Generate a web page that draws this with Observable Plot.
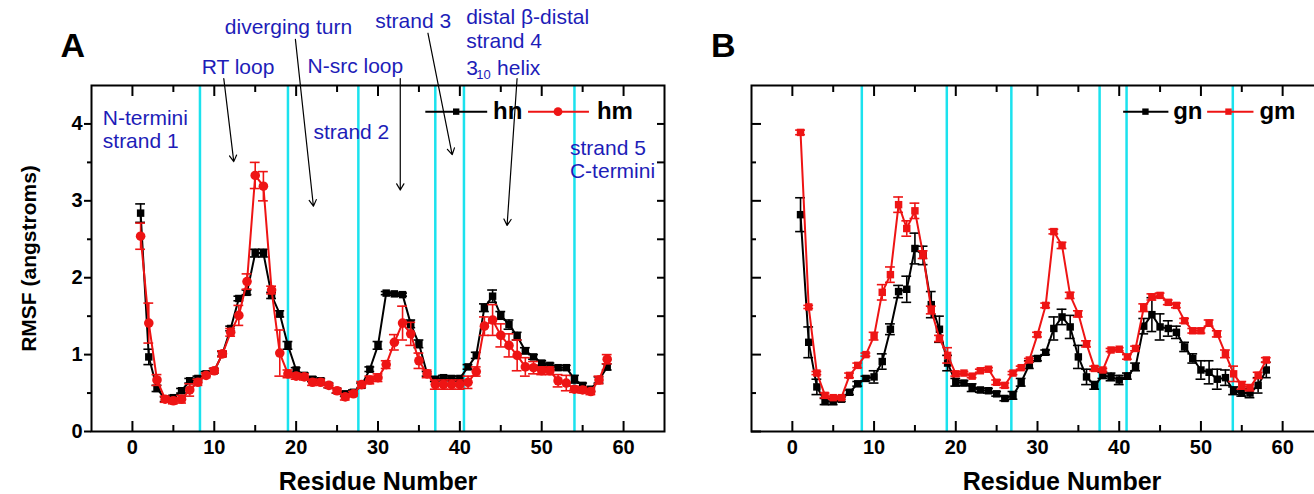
<!DOCTYPE html>
<html><head><meta charset="utf-8">
<script src="https://cdn.jsdelivr.net/npm/d3@7"></script>
<script src="https://cdn.jsdelivr.net/npm/@observablehq/plot@0.6"></script>
<style>
html,body{margin:0;padding:0;background:#fff;overflow:hidden;}
#wrap{display:flex;width:1314px;height:494px;overflow:hidden;}
#wrap svg{flex:none;display:block;}
</style></head><body><div id="wrap"></div>
<script>
// ---------- data ----------
const residues = [1,2,3,4,5,6,7,8,9,10,11,12,13,14,15,16,17,18,19,20,21,22,23,24,25,26,27,28,29,30,31,32,33,34,35,36,37,38,39,40,41,42,43,44,45,46,47,48,49,50,51,52,53,54,55,56,57,58];

// Panel A
const hn = [2.84,0.97,0.56,0.42,0.44,0.53,0.66,0.69,0.75,0.79,1.01,1.34,1.73,1.81,2.32,2.32,1.77,1.53,1.12,0.80,0.73,0.68,0.66,0.60,0.53,0.49,0.51,0.60,0.81,1.12,1.80,1.79,1.78,1.40,1.14,0.75,0.68,0.70,0.69,0.69,0.84,0.99,1.61,1.76,1.51,1.39,1.24,1.05,0.97,0.89,0.86,0.83,0.83,0.68,0.60,0.55,0.67,0.84];
const hnErr = [0.12,0.10,0.04,0.03,0.03,0.03,0.03,0.03,0.03,0.03,0.03,0.03,0.03,0.03,0.05,0.05,0.04,0.04,0.05,0.03,0.03,0.03,0.03,0.03,0.03,0.03,0.03,0.03,0.03,0.05,0.02,0.02,0.02,0.05,0.05,0.03,0.03,0.03,0.03,0.03,0.03,0.04,0.05,0.08,0.05,0.06,0.05,0.04,0.03,0.03,0.03,0.03,0.03,0.05,0.03,0.03,0.04,0.04];
const hm = [2.54,1.41,0.67,0.42,0.40,0.42,0.54,0.64,0.73,0.79,1.01,1.29,1.51,1.95,3.33,3.19,1.84,1.02,0.75,0.72,0.71,0.64,0.64,0.60,0.53,0.45,0.49,0.61,0.67,0.70,0.87,1.16,1.41,1.27,0.92,0.75,0.61,0.61,0.61,0.61,0.64,0.78,1.37,1.45,1.25,1.12,0.99,0.84,0.83,0.79,0.79,0.66,0.63,0.55,0.54,0.52,0.67,0.94];
const hmErr = [0.17,0.26,0.07,0.04,0.04,0.05,0.08,0.04,0.03,0.03,0.04,0.05,0.13,0.10,0.17,0.19,0.05,0.30,0.05,0.04,0.04,0.04,0.04,0.03,0.03,0.04,0.03,0.04,0.05,0.05,0.05,0.10,0.22,0.15,0.10,0.05,0.06,0.06,0.06,0.06,0.08,0.06,0.12,0.20,0.15,0.15,0.20,0.12,0.08,0.05,0.05,0.08,0.10,0.04,0.04,0.04,0.05,0.06];

// Panel B
const gn = [2.82,1.16,0.58,0.39,0.39,0.42,0.51,0.62,0.69,0.71,0.91,1.33,1.82,1.85,2.38,2.29,1.65,1.33,0.89,0.64,0.63,0.57,0.54,0.53,0.49,0.43,0.47,0.64,0.87,0.95,1.03,1.34,1.49,1.36,0.97,0.71,0.60,0.73,0.71,0.67,0.72,0.84,1.37,1.52,1.36,1.34,1.29,1.10,0.95,0.80,0.77,0.68,0.70,0.53,0.50,0.50,0.60,0.80];
const gnErr = [0.22,0.20,0.10,0.04,0.04,0.03,0.03,0.03,0.03,0.08,0.10,0.07,0.08,0.17,0.20,0.12,0.17,0.17,0.10,0.05,0.03,0.05,0.03,0.03,0.03,0.03,0.05,0.05,0.05,0.03,0.03,0.15,0.10,0.15,0.15,0.10,0.05,0.04,0.05,0.06,0.04,0.05,0.10,0.22,0.17,0.10,0.08,0.06,0.06,0.12,0.15,0.13,0.10,0.05,0.04,0.06,0.10,0.10];
const gm = [3.89,1.62,0.76,0.47,0.44,0.44,0.73,0.86,1.00,1.24,1.81,2.04,2.95,2.64,2.87,2.30,1.58,1.21,0.99,0.75,0.76,0.72,0.79,0.81,0.64,0.60,0.76,0.83,0.93,1.26,1.64,2.60,2.42,1.77,1.53,1.14,0.82,0.80,1.06,1.07,0.97,1.08,1.61,1.75,1.77,1.68,1.64,1.44,1.31,1.31,1.41,1.27,1.01,0.75,0.60,0.57,0.73,0.93];
const gmErr = [0.03,0.02,0.02,0.03,0.02,0.02,0.03,0.03,0.02,0.05,0.10,0.10,0.10,0.10,0.10,0.05,0.05,0.04,0.10,0.03,0.02,0.02,0.02,0.02,0.03,0.03,0.02,0.02,0.02,0.03,0.03,0.03,0.04,0.04,0.04,0.04,0.03,0.02,0.02,0.02,0.03,0.03,0.05,0.04,0.03,0.03,0.03,0.03,0.03,0.03,0.04,0.04,0.05,0.10,0.05,0.04,0.04,0.03];

// region boundaries (cyan lines)
const cyanA = [8.25, 19.0, 27.6, 37.0, 40.5, 54.0];
const cyanB = [8.5, 18.9, 26.8, 37.6, 40.9, 53.9];

// axis ticks
const xMajor = [0, 10, 20, 30, 40, 50, 60];
const xMinor = [5, 15, 25, 35, 45, 55];
const yMajor = [0, 1, 2, 3, 4];
const yMinor = [0.5, 1.5, 2.5, 3.5];
const yHalf = [0.5, 1, 1.5, 2, 2.5, 3, 3.5, 4];

// annotations for panel A (position in data units)
const labelsA_start = [
  {text: "N-termini", x: -3.62, y: 4.08},
  {text: "strand 1", x: -3.62, y: 3.78},
  {text: "strand 2", x: 22.11, y: 3.89},
  {text: "distal β-distal", x: 40.77, y: 5.39},
  {text: "strand 4", x: 40.77, y: 5.07},
  {text: "3", x: 40.77, y: 4.73},
  {text: "helix", x: 44.55, y: 4.73},
  {text: "strand 5", x: 53.45, y: 3.69},
  {text: "C-termini", x: 53.45, y: 3.38}
];
const labelsA_middle = [
  {text: "RT loop", x: 12.9, y: 4.74},
  {text: "diverging turn", x: 19.06, y: 5.26},
  {text: "N-src loop", x: 27.23, y: 4.75},
  {text: "strand 3", x: 34.3, y: 5.34}
];
const subscriptsA = [{text: "10", x: 42.0, y: 4.64}];
const arrowsA = [
  {x1: 11.16, y1: 4.59, x2: 12.38, y2: 3.51},
  {x1: 19.91, y1: 5.10, x2: 22.11, y2: 2.93},
  {x1: 32.72, y1: 4.59, x2: 32.72, y2: 3.14},
  {x1: 36.10, y1: 5.18, x2: 39.06, y2: 3.60},
  {x1: 46.99, y1: 4.59, x2: 45.77, y2: 2.68}
];

// legends
const legendA = [
  {label: "hn", x1: 35.78, x2: 43.34, xm: 39.55, xt: 44.06, y: 4.16},
  {label: "hm", x1: 48.33, x2: 55.77, xm: 51.99, xt: 56.74, y: 4.16}
];
const legendB = [
  {label: "gn", x1: 40.48, x2: 46.02, xm: 43.21, xt: 46.6, y: 4.16},
  {label: "gm", x1: 50.76, x2: 56.43, xm: 53.37, xt: 57.16, y: 4.16}
];

// ---------- styles ----------
const FONT = "'Liberation Sans', Arial, Helvetica, sans-serif";
const CYAN = "#1be2ee";
const BLUE = "#1d1db8";
const RED = "#ee1414";
const BLACK = "#000000";

function rows(vals, errs) {
  return residues.map((r, i) => ({r, v: vals[i], e: errs[i]}));
}

function seriesMarks(data, color, symbol) {
  return [
    Plot.ruleX(data, {x: "r", y1: d => d.v - d.e, y2: d => d.v + d.e, stroke: color, strokeWidth: 1.6}),
    Plot.ruleY(data, {y: d => d.v + d.e, x1: d => d.r - 0.6, x2: d => d.r + 0.6, stroke: color, strokeWidth: 1.6}),
    Plot.ruleY(data, {y: d => d.v - d.e, x1: d => d.r - 0.6, x2: d => d.r + 0.6, stroke: color, strokeWidth: 1.6}),
    Plot.line(data, {x: "r", y: "v", stroke: color, strokeWidth: 2}),
    Plot.dot(data, {x: "r", y: "v", symbol, fill: color, stroke: "none", r: symbol === "square" ? 4.2 : 4.8})
  ];
}

function legendMarks(leg, colors, symbols) {
  const out = [];
  leg.forEach((d, i) => {
    out.push(Plot.link([d], {x1: "x1", x2: "x2", y1: "y", y2: "y", stroke: colors[i], strokeWidth: 2}));
    out.push(Plot.dot([d], {x: "xm", y: "y", symbol: symbols[i], fill: colors[i], stroke: "none", r: symbols[i] === "square" ? 3.6 : 4.4}));
    out.push(Plot.text([d], {x: "xt", y: "y", text: "label", textAnchor: "start", fontSize: 24, fontWeight: "bold", fontFamily: FONT, fill: BLACK}));
  });
  return out;
}

const tickStyle = {label: null, fill: "none", stroke: BLACK, strokeWidth: 2};
const boldText = {fontWeight: "bold", fontFamily: FONT, fill: BLACK};

function panel({width, marginLeft, marginRight, s1, s2, sym1, sym2, cyan, legend, letterX, letter, titleX, isA}) {
  const marks = [
    Plot.ruleX(cyan, {x: d => d, stroke: CYAN, strokeWidth: 2.5}),
    ...seriesMarks(s1, BLACK, sym1),
    ...seriesMarks(s2, RED, sym2),
    // bottom axis
    Plot.axisX({...tickStyle, anchor: "bottom", ticks: xMajor, tickSize: -10}),
    Plot.axisX({...tickStyle, anchor: "bottom", ticks: xMinor, tickSize: -6}),
    Plot.text(xMajor, {x: d => d, frameAnchor: "bottom", text: d => String(d), lineAnchor: "top", dy: 8, fontSize: 20, ...boldText}),
    // top axis
    Plot.axisX({...tickStyle, anchor: "top", ticks: xMajor, tickSize: -10}),
    Plot.axisX({...tickStyle, anchor: "top", ticks: xMinor, tickSize: -6}),
    Plot.frame({stroke: BLACK, strokeWidth: 2}),
    ...legendMarks(legend, [BLACK, RED], [sym1, sym2]),
    Plot.text([letter], {x: letterX, y: 5.01, text: d => d, fontSize: 34, ...boldText}),
    Plot.text(["Residue Number"], {x: titleX, y: -0.66, text: d => d, fontSize: 25, ...boldText})
  ];
  if (isA) {
    marks.push(
      Plot.axisY({...tickStyle, anchor: "left", ticks: yMajor, tickSize: 7}),
      Plot.axisY({...tickStyle, anchor: "left", ticks: yMinor, tickSize: 4}),
      Plot.text(yMajor, {y: d => d, frameAnchor: "left", text: d => String(d), textAnchor: "end", dx: -9, fontSize: 20, ...boldText}),
      Plot.axisY({...tickStyle, anchor: "right", ticks: yHalf, tickSize: -8}),
      Plot.text(["RMSF (angstroms)"], {x: -12.65, y: 2.25, text: d => d, rotate: -90, fontSize: 21, ...boldText}),
      Plot.text(labelsA_start, {x: "x", y: "y", text: "text", textAnchor: "start", fontSize: 21, fontFamily: FONT, fill: BLUE}),
      Plot.text(labelsA_middle, {x: "x", y: "y", text: "text", textAnchor: "middle", fontSize: 21, fontFamily: FONT, fill: BLUE}),
      Plot.text(subscriptsA, {x: "x", y: "y", text: "text", textAnchor: "start", fontSize: 13, fontFamily: FONT, fill: BLUE}),
      Plot.arrow(arrowsA, {x1: "x1", y1: "y1", x2: "x2", y2: "y2", stroke: BLACK, strokeWidth: 1.2, headLength: 9, bend: 0})
    );
  } else {
    marks.push(
      Plot.axisY({...tickStyle, anchor: "left", ticks: yMajor, tickSize: -10}),
      Plot.axisY({...tickStyle, anchor: "left", ticks: yMinor, tickSize: -5})
    );
  }
  return Plot.plot({
    width, height: 494,
    marginLeft, marginRight, marginTop: 85, marginBottom: 63,
    x: {domain: [-5, 65]},
    y: {domain: [0, 4.5]},
    style: {background: "white", fontFamily: FONT, overflow: "visible"},
    marks
  });
}

const wrap = document.getElementById("wrap");
wrap.appendChild(panel({
  width: 680, marginLeft: 91, marginRight: 16,
  s1: rows(hn, hnErr), s2: rows(hm, hmErr), sym1: "square", sym2: "circle",
  cyan: cyanA, legend: legendA, letter: "A", letterX: -7.3, titleX: 30.0, isA: true
}));
wrap.appendChild(panel({
  width: 660, marginLeft: 71, marginRight: 17,
  s1: rows(gn, gnErr), s2: rows(gm, gmErr), sym1: "square", sym2: "square",
  cyan: cyanB, legend: legendB, letter: "B", letterX: -8.45, titleX: 33.0, isA: false
}));
</script></body></html>
